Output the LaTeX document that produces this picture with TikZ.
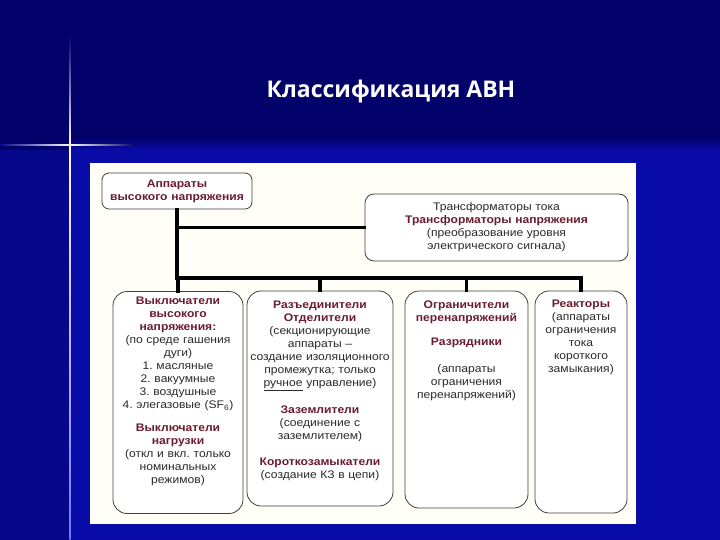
\documentclass[tikz,border=0pt]{standalone}
\usepackage{fontspec}
\setmainfont[FakeStretch=1.1]{Liberation Sans}
\newfontfamily\titlefont{Open Sans}
\usetikzlibrary{positioning}

\definecolor{navytop}{HTML}{02026A}
\definecolor{navylow}{HTML}{0A0CA8}
\definecolor{navyleft}{HTML}{06088C}
\definecolor{paper}{HTML}{FFFFF8}
\definecolor{maroon}{HTML}{6A1C30}
\definecolor{bodytext}{HTML}{2A2A2A}
\newcommand{\ttl}[1]{{\color{maroon}\bfseries #1}}
\frenchspacing

\begin{document}
\begin{tikzpicture}[x=1pt, y=-1pt,
  box/.style={draw=black!75, fill=white, line width=0.8pt, rounded corners=7pt,
    align=center, inner sep=0pt, font=\fontsize{11}{13}\selectfont, text=bodytext},
  column/.style={box, rounded corners=14pt, minimum width=#1},
  txt/.style={align=center, inner sep=0pt, anchor=north,
    font=\fontsize{11}{13}\selectfont, text=bodytext},
  link/.style={line width=3.6pt, line cap=rect}
]
\useasboundingbox (0,0) rectangle (720,540);
% slide background
\fill[navytop] (0,0) rectangle (720,540);
\fill[navylow] (70,150) rectangle (720,540);
\fill[navyleft] (0,150) rectangle (70,540);
\shade[top color=navytop, bottom color=navylow] (70,138) rectangle (720,150);
% sparkle
\shade[top color=navytop, bottom color=white] (69.2,35) rectangle (70.8,145);
\shade[top color=white, bottom color=blue!55!white] (69.3,145) rectangle (70.7,540);
\shade[left color=navyleft, right color=white] (0,144.2) rectangle (70,145.8);
\shade[left color=white, right color=navytop] (70,144.2) rectangle (135,145.8);
\node[font=\titlefont\bfseries\fontsize{23}{27}\selectfont, text=white] (title) at (391,92) {Классификация АВН};
% white sheet
\fill[paper] (90,163) rectangle (636,524);

% top level
\node[box, minimum width=150pt, minimum height=36pt, text width=148pt] (avn) at (177,191)
  {\ttl{Аппараты}\\\ttl{высокого напряжения}};
\node[box, rounded corners=9pt, minimum width=263pt, minimum height=67pt, text width=220pt] (tr) at (496.5,227.5)
  {Трансформаторы тока\\\ttl{Трансформаторы напряжения}\\(преобразование уровня\\электрического сигнала)};

% columns
\node[column=130pt, minimum height=222pt] (b1) at (178,402.5) {};
\node[column=146pt, minimum height=215pt] (b2) at (320,398.5) {};
\node[column=123pt, minimum height=217pt] (b3) at (466.5,399.5) {};
\node[column=92pt, minimum height=222pt] (b4) at (581,402) {};

\node[txt, text width=136pt] (b1txt) at ([yshift=-6pt]b1.north)
  {\ttl{Выключатели\\высокого\\напряжения:}\\
   (по среде гашения\\дуги)\\1. масляные\\2. вакуумные\\3. воздушные\\4. элегазовые (SF\textsubscript{6})\\[10pt]
   \ttl{Выключатели\\нагрузки}\\
   (откл и вкл. только\\номинальных\\режимов)};
\node[txt, text width=160pt] (b2txt) at ([yshift=-10pt]b2.north)
  {\ttl{Разъединители\\Отделители}\\
   (секционирующие\\аппараты –\\создание изоляционного\\промежутка; только\\\underline{ручное} управление)\\[14pt]
   \ttl{Заземлители}\\(соединение с\\заземлителем)\\[13pt]
   \ttl{Короткозамыкатели}\\(создание КЗ в цепи)};
\node[txt, text width=121pt] (b3txt) at ([yshift=-10pt]b3.north)
  {\ttl{Ограничители\\перенапряжений}\\[11pt]
   \ttl{Разрядники}\\[14pt]
   (аппараты\\ограничения\\перенапряжений)};
\node[txt, text width=90pt] (b4txt) at ([yshift=-9pt]b4.north)
  {\ttl{Реакторы}\\(аппараты\\ограничения\\тока\\короткого\\замыкания)};

% connectors
\coordinate (bus) at (0,278);
\draw[link] (avn.south) |- (tr.west);
\draw[link] (avn.south) -- (avn.south |- bus);
\draw[link] (b1.north |- bus) -- (b4.north |- bus);
\foreach \b in {b1,b2,b3,b4}
  \draw[link] (\b.north |- bus) -- (\b.north);
\end{tikzpicture}
\end{document}
